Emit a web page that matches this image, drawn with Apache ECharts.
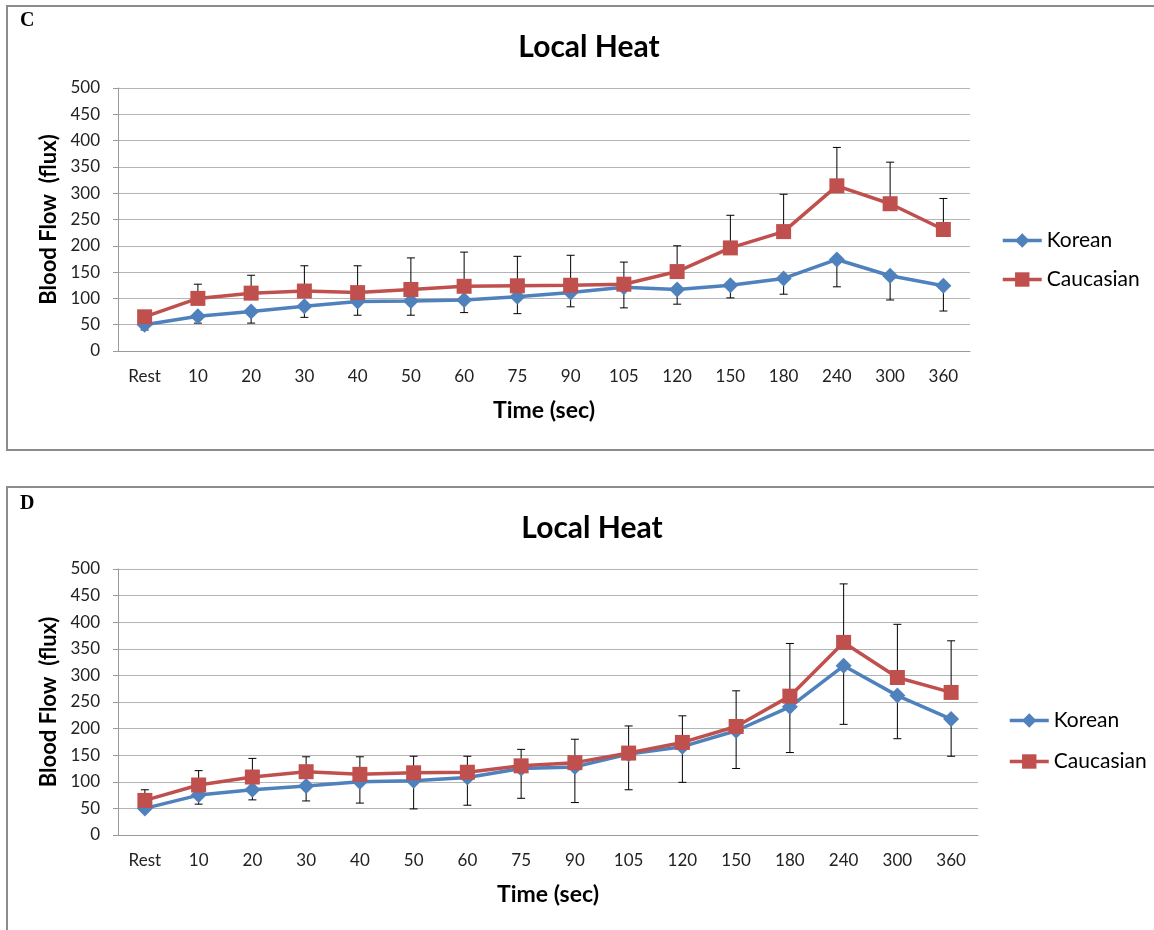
<!DOCTYPE html>
<html>
<head>
<meta charset="utf-8">
<script src="https://cdn.jsdelivr.net/npm/echarts@6/dist/echarts.min.js"></script>
<style>
html,body{margin:0;padding:0;background:#fff;}
#chart{width:1154px;height:930px;}
</style>
</head>
<body>
<div id="chart"></div>
<script>
// ---- Data ----
const categories = ['Rest','10','20','30','40','50','60','75','90','105','120','150','180','240','300','360'];
const yTicks = [0, 50, 100, 150, 200, 250, 300, 350, 400, 450, 500];

// Panel C
const koreanC    = [50, 66, 75, 85, 94, 95, 97, 103, 111, 121, 117, 125, 138, 174, 143, 124];
const caucasianC = [65, 100, 110, 114, 111, 117, 123, 124, 125, 127, 151, 196, 227, 314, 280, 231];
const koreanC_sd    = [10, 13, 22, 21, 26, 27, 24, 32, 27, 39, 28, 24, 30, 52, 46, 48];
const caucasianC_sd = [8, 27, 34, 48, 51, 60, 65, 56, 57, 42, 49, 62, 71, 73, 79, 59];

// Panel D
const koreanD    = [50, 75, 85, 92, 100, 102, 108, 125, 128, 152, 166, 196, 241, 318, 262, 218];
const caucasianD = [65, 94, 109, 119, 114, 117, 118, 130, 136, 154, 174, 204, 261, 362, 296, 268];
const koreanD_sd    = [5, 17, 19, 28, 40, 53, 52, 56, 67, 67, 67, 71, 86, 110, 81, 70];
const caucasianD_sd = [20, 27, 35, 28, 33, 31, 30, 31, 44, 51, 50, 67, 99, 110, 100, 97];

// ---- Styles ----
const BLUE = '#4F81BD', RED = '#C0504D';
const FONT = 'Lato';

function errData(mean, sd, dir) {
  return mean.map((m, i) => [i, m, m + dir * sd[i]]);
}
function errRender(params, api) {
  const x = api.value(0), y = api.value(1), e = api.value(2);
  const p0 = api.coord([x, y]);
  const p1 = api.coord([x, e]);
  return {
    type: 'group',
    children: [
      {type: 'line', shape: {x1: p0[0], y1: p0[1], x2: p1[0], y2: p1[1]}, style: {stroke: '#000', lineWidth: 1}},
      {type: 'line', shape: {x1: p1[0] - 4, y1: p1[1], x2: p1[0] + 4, y2: p1[1]}, style: {stroke: '#000', lineWidth: 1}}
    ]
  };
}

function xAxisCfg(gi) {
  return {
    type: 'category', gridIndex: gi, data: categories, boundaryGap: true,
    axisLine: {lineStyle: {color: '#9a9a9a', width: 1}},
    axisTick: {show: false},
    axisLabel: {color: '#222', fontFamily: FONT, fontSize: 17, margin: 17},
    name: 'Time (sec)', nameLocation: 'middle', nameGap: 48,
    nameTextStyle: {fontFamily: FONT, fontWeight: 'bold', fontSize: 23, color: '#000'}
  };
}
function yAxisCfg(gi) {
  return {
    type: 'value', gridIndex: gi, min: yTicks[0], max: yTicks[yTicks.length - 1], interval: yTicks[1] - yTicks[0],
    axisLine: {show: true, lineStyle: {color: '#9a9a9a', width: 1}},
    axisTick: {show: true, length: 5, lineStyle: {color: '#9a9a9a'}},
    axisLabel: {color: '#222', fontFamily: FONT, fontSize: 17, margin: 18},
    splitLine: {lineStyle: {color: '#b4b4b4', width: 1}},
    name: 'Blood Flow  (flux)', nameLocation: 'middle', nameGap: 53, nameRotate: 90,
    nameTextStyle: {fontFamily: FONT, fontWeight: 'bold', fontSize: 22, color: '#000'}
  };
}
function lineSeries(name, data, gi, color, symbol, size) {
  return {
    type: 'line', name: name, data: data, xAxisIndex: gi, yAxisIndex: gi,
    symbol: symbol, symbolSize: size, showAllSymbol: true,
    lineStyle: {color: color, width: 3.5}, itemStyle: {color: color},
    z: 3, animation: false
  };
}
function errSeries(name, mean, sd, dir, gi) {
  return {
    type: 'custom', name: name, xAxisIndex: gi, yAxisIndex: gi,
    data: errData(mean, sd, dir), renderItem: errRender, z: 2, animation: false, silent: true
  };
}

const legendText = {fontFamily: FONT, fontSize: 21, color: '#000', lineHeight: 21};
const chart = echarts.init(document.getElementById('chart'));
const option = {
  animation: false,
  backgroundColor: '#fff',
  title: [
    {text: 'Local Heat', left: 584, top: 27, textAlign: 'center',
     textStyle: {fontFamily: FONT, fontWeight: 'bold', fontSize: 30, color: '#000'}},
    {text: 'Local Heat', left: 587, top: 508, textAlign: 'center',
     textStyle: {fontFamily: FONT, fontWeight: 'bold', fontSize: 30, color: '#000'}}
  ],
  legend: [
    {orient: 'vertical', left: 1001, top: 230, padding: 0, itemWidth: 39, itemHeight: 18, itemGap: 18,
     lineStyle: {width: 3.5}, data: ['Korean', 'Caucasian'], textStyle: legendText},
    {orient: 'vertical', left: 1008, top: 710, padding: 0, itemWidth: 39, itemHeight: 18, itemGap: 20,
     lineStyle: {width: 3.5}, data: ['Korean', 'Caucasian'], textStyle: legendText}
  ],
  grid: [
    {left: 118, top: 88, width: 852, height: 263},
    {left: 118, top: 569, width: 860, height: 266}
  ],
  xAxis: [xAxisCfg(0), xAxisCfg(1)],
  yAxis: [yAxisCfg(0), yAxisCfg(1)],
  series: [
    errSeries('errKC', koreanC, koreanC_sd, -1, 0),
    errSeries('errCC', caucasianC, caucasianC_sd, 1, 0),
    lineSeries('Korean', koreanC, 0, BLUE, 'diamond', 16),
    lineSeries('Caucasian', caucasianC, 0, RED, 'rect', 15),
    errSeries('errKD', koreanD, koreanD_sd, -1, 1),
    errSeries('errCD', caucasianD, caucasianD_sd, 1, 1),
    lineSeries('Korean', koreanD, 1, BLUE, 'diamond', 16),
    lineSeries('Caucasian', caucasianD, 1, RED, 'rect', 15)
  ],
  graphic: [
    {type: 'rect', shape: {x: 7, y: 6, width: 1160, height: 444}, style: {fill: 'none', stroke: '#8c8c8c', lineWidth: 2}, z: 0},
    {type: 'rect', shape: {x: 7, y: 487, width: 1160, height: 460}, style: {fill: 'none', stroke: '#8c8c8c', lineWidth: 2}, z: 0},
    {type: 'text', left: 20, top: 11, style: {text: 'C', font: 'bold 20px "Liberation Serif"', fill: '#000'}},
    {type: 'text', left: 20, top: 494, style: {text: 'D', font: 'bold 20px "Liberation Serif"', fill: '#000'}}
  ]
};
chart.setOption(option);
</script>
</body>
</html>
